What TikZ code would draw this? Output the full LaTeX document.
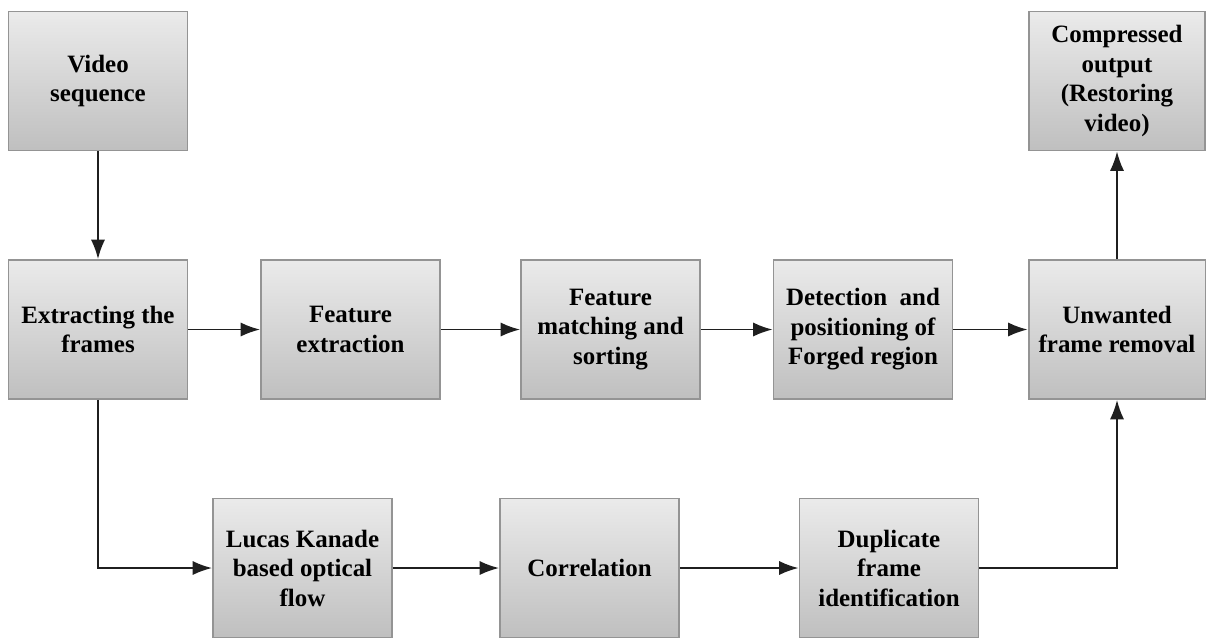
\documentclass[tikz,border=0pt]{standalone}
\usepackage{fontspec}
\setmainfont{Liberation Serif}
\usepackage{tikz}
\usetikzlibrary{arrows.meta,shadings}
\tikzset{
         stagebox/.style=
          {
           draw=black!42,
           line width=1.1pt,
           top color=black!8,
           bottom color=black!25,
           minimum width=3.58cm,
           minimum height=2.78cm,
           align=center,
           inner sep=1pt,
           font=\bfseries\fontsize{14.2}{16.8}\selectfont
          },
         flow/.style=
          {
           draw=black!88,
           line width=1pt,
           -{Latex[length=11pt,width=8pt]}
          }
        }

\begin{document}
\begin{tikzpicture}[x=0.02cm,y=-0.02cm]
\useasboundingbox (0,0) rectangle (1206,637); % page
\node[stagebox] (video) at (98,81) {Video\\sequence}; % input
\node[stagebox] (extract) at (98,329.5) {Extracting the\\frames}; % frames
\node[stagebox] (featext) at (350.5,329.5) {Feature\\extraction}; % features
\node[stagebox] (featmatch) at (610.5,329.5) {Feature\\matching and\\sorting}; % matching
\node[stagebox] (detect) at (863,329.5) {Detection\ \ and\\positioning of\\Forged region}; % detection
\node[stagebox,minimum width=3.54cm] (unwanted) at (1117,329.5) {Unwanted\\frame removal}; % removal
\node[stagebox,minimum width=3.52cm] (output) at (1117,81) {Compressed\\output\\(Restoring\\video)}; % output
\node[stagebox] (lucas) at (302.5,568) {Lucas Kanade\\based optical\\flow}; % optical flow
\node[stagebox] (corr) at (589.5,568) {Correlation}; % correlation
\node[stagebox] (dup) at (889,568) {Duplicate\\frame\\identification}; % duplicates
\draw[flow] (video) -- (extract); % Wiring
\draw[flow] (extract) -- (featext); % Wiring
\draw[flow] (featext) -- (featmatch); % Wiring
\draw[flow] (featmatch) -- (detect); % Wiring
\draw[flow] (detect) -- (unwanted); % Wiring
\draw[flow] (unwanted) -- (output); % Wiring
\draw[flow] (extract.south) |- (lucas.west); % Wiring
\draw[flow] (lucas) -- (corr); % Wiring
\draw[flow] (corr) -- (dup); % Wiring
\draw[flow] (dup.east) -| (unwanted.south); % Wiring
\end{tikzpicture}
\end{document}
